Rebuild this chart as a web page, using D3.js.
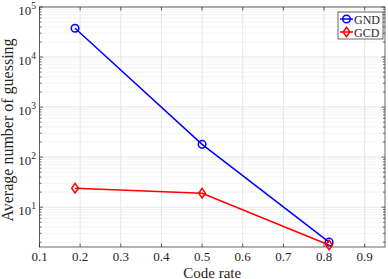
<!DOCTYPE html>
<html>
<head>
<meta charset="utf-8">
<script src="https://cdn.jsdelivr.net/npm/d3@7"></script>
<style>
  body { margin: 0; background: #fff; }
  text { font-family: "Liberation Serif", "DejaVu Serif", serif; fill: #262626; }
</style>
</head>
<body>
<div id="chart"></div>
<script>
// data
const codeRates = [0.1875, 0.5, 0.8125];
const gndGuesses = [37500, 180, 2.0];
const gcdGuesses = [24, 19, 1.75];
const xTicks = [0.1, 0.2, 0.3, 0.4, 0.5, 0.6, 0.7, 0.8, 0.9];
const yTicks = [1e1, 1e2, 1e3, 1e4, 1e5];
const seriesNames = ["GND", "GCD"];

const W = 388, H = 279;
const margin = { top: 7, right: 3, bottom: 32, left: 39.5 };
const x0 = margin.left, x1 = W - margin.right,
  y0 = margin.top, y1 = H - margin.bottom;

const svg = d3.select("#chart").append("svg")
  .attr("width", W).attr("height", H);

const x = d3.scaleLinear().domain([0.1, 0.95]).range([x0, x1]);
const y = d3.scaleLog().domain([1.6, 1e5]).range([y1, y0]);

// minor log grid
let minor = [];
for (let e = 0; e <= 4; e++) {
  for (let m = 2; m <= 9; m++) {
    const v = m * Math.pow(10, e);
    if (v >= 1.6 && v < 1e5) minor.push(v);
  }
}

const grid = svg.append("g");
grid.selectAll(".ymin").data(minor).enter().append("line")
  .attr("x1", x0).attr("x2", x1)
  .attr("y1", d => y(d)).attr("y2", d => y(d))
  .style("stroke", "#f0f0f0").style("stroke-width", 0.8);
grid.selectAll(".ymaj").data(yTicks).enter().append("line")
  .attr("x1", x0).attr("x2", x1)
  .attr("y1", d => y(d)).attr("y2", d => y(d))
  .style("stroke", "#dfdfdf").style("stroke-width", 0.8);
grid.selectAll(".xmaj").data(xTicks).enter().append("line")
  .attr("x1", d => x(d)).attr("x2", d => x(d))
  .attr("y1", y0).attr("y2", y1)
  .style("stroke", "#dfdfdf").style("stroke-width", 0.8);

// axes box + tick marks
const axisColor = "#262626";
const ax = svg.append("g").style("stroke", axisColor).style("stroke-width", 0.7);
ax.append("rect").attr("x", x0).attr("y", y0)
  .attr("width", x1 - x0).attr("height", y1 - y0)
  .style("fill", "none");
xTicks.forEach(t => {
  ax.append("line").attr("x1", x(t)).attr("x2", x(t)).attr("y1", y1).attr("y2", y1 - 3.5);
  ax.append("line").attr("x1", x(t)).attr("x2", x(t)).attr("y1", y0).attr("y2", y0 + 3.5);
});
yTicks.forEach(t => {
  ax.append("line").attr("x1", x0).attr("x2", x0 + 3.5).attr("y1", y(t)).attr("y2", y(t));
  ax.append("line").attr("x1", x1).attr("x2", x1 - 3.5).attr("y1", y(t)).attr("y2", y(t));
});
minor.forEach(t => {
  ax.append("line").attr("x1", x0).attr("x2", x0 + 2).attr("y1", y(t)).attr("y2", y(t));
  ax.append("line").attr("x1", x1).attr("x2", x1 - 2).attr("y1", y(t)).attr("y2", y(t));
});

// tick labels
svg.append("g").selectAll("text").data(xTicks).enter().append("text")
  .attr("x", d => x(d)).attr("y", y1 + 14)
  .attr("text-anchor", "middle").style("font-size", "13px")
  .text(d => d3.format(".1f")(d));

const yl = svg.append("g").selectAll("text").data(yTicks).enter().append("text")
  .attr("x", 36).attr("y", d => y(d) + 8)
  .attr("text-anchor", "end").style("font-size", "13px");
yl.append("tspan").text("10");
yl.append("tspan").attr("dy", -6).style("font-size", "9.5px")
  .text(d => Math.round(Math.log10(d)));

// axis titles
svg.append("text").attr("x", (x0 + x1) / 2).attr("y", 277.5)
  .attr("text-anchor", "middle").style("font-size", "15px").text("Code rate");
svg.append("text").attr("transform", `translate(13,${(y0 + y1) / 2 + 3}) rotate(-90)`)
  .attr("text-anchor", "middle").style("font-size", "16px")
  .text("Average number of guessing");

// series
const line = d3.line().x(d => x(d[0])).y(d => y(d[1]));
const series = [
  { name: seriesNames[0], color: "#0000ff", marker: "circle", vals: gndGuesses },
  { name: seriesNames[1], color: "#ff0000", marker: "diamond", vals: gcdGuesses }
];

function drawMarker(g, kind, cx, cy, color) {
  if (kind === "circle") {
    g.append("circle").attr("cx", cx).attr("cy", cy).attr("r", 3.8)
      .style("fill", "none").style("stroke", color).style("stroke-width", 1.5);
  } else {
    const s = 4.8;
    g.append("path")
      .attr("d", `M${cx},${cy - s}L${cx + s * 0.7},${cy}L${cx},${cy + s}L${cx - s * 0.7},${cy}Z`)
      .style("fill", "none").style("stroke", color).style("stroke-width", 1.5);
  }
}

series.forEach(s => {
  const pts = codeRates.map((r, i) => [r, s.vals[i]]);
  svg.append("path").datum(pts).attr("d", line)
    .style("fill", "none").style("stroke", s.color).style("stroke-width", 1.5);
  const mg = svg.append("g");
  pts.forEach(p => drawMarker(mg, s.marker, x(p[0]), y(p[1]), s.color));
});

// legend
const lg = svg.append("g");
lg.append("rect").attr("x", 338).attr("y", 12).attr("width", 45).attr("height", 27)
  .style("fill", "#fff").style("stroke", axisColor).style("stroke-width", 0.7);
series.forEach((s, i) => {
  const ly = 19 + i * 13;
  lg.append("line").attr("x1", 340).attr("x2", 353).attr("y1", ly).attr("y2", ly)
    .style("stroke", s.color).style("stroke-width", 1.5);
  drawMarker(lg, s.marker, 346.5, ly, s.color);
  lg.append("text").attr("x", 354).attr("y", ly + 4.5).style("font-size", "12px").text(s.name);
});
</script>
</body>
</html>
